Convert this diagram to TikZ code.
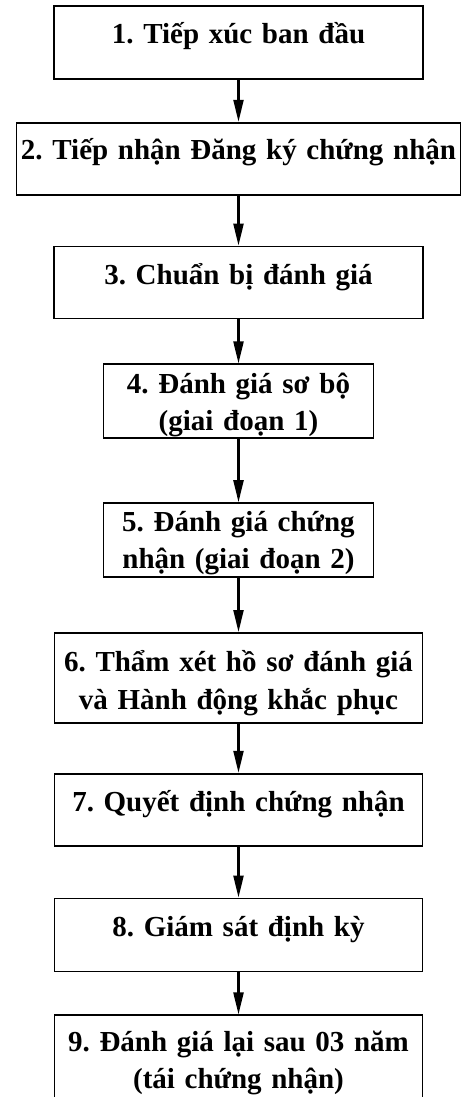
\documentclass[tikz,border=0pt]{standalone}
\usepackage{fontspec}
\setmainfont{Liberation Serif}
\frenchspacing
\usetikzlibrary{arrows.meta}
\usetikzlibrary{positioning}
\tikzset{
  every picture/.style={font={\bfseries\fontsize{29}{37.5}\selectfont}, >={Triangle[length=22pt, width=10pt]}}}

\begin{document}
\begin{tikzpicture}[x=1pt, y=1pt, node distance=45pt,
    stage/.style={draw, line width=1.8pt, inner sep=0pt, align=center,
      text width=368pt, text height=38pt, text depth=35pt},
    twoline/.style={stage, text width=270pt, text height=29pt, text depth=45pt}]

    \useasboundingbox (0,0) rectangle (465,-1097);
    \clip (0,0) rectangle (465,-1097);

    \begin{scope}
      \node[stage, text width=369pt] (S1) at (238.5,-5) [anchor=north] {1. Tiếp xúc ban đầu};
      \node[stage, text width=444pt, text height=37pt] (S2) [below=42pt of S1] {2. Tiếp nhận Đăng ký chứng nhận};
      \node[stage, text width=369pt, text depth=34pt] (S3) [below=50pt of S2] {3. Chuẩn bị đánh giá};
      \node[twoline] (S4) [below=44pt of S3] {4. Đánh giá sơ bộ\\(giai đoạn 1)};
      \node[twoline, text height=28pt, text depth=46pt] (S5) [below=63pt of S4] {5. Đánh giá chứng\\nhận (giai đoạn 2)};
      \node[stage, text height=39pt, text depth=51pt] (S6) [below=54pt of S5] {6. Thẩm xét hồ sơ đánh giá\\và Hành động khắc phục};
      \node[stage, text depth=34pt] (S7) [below=49pt of S6] {7. Quyết định chứng nhận};
      \node[stage] (S8) [below=51pt of S7] {8. Giám sát định kỳ};
      \node[stage, text height=36pt, text depth=80pt] (S9) [below=42pt of S8] {9. Đánh giá lại sau 03 năm\\(tái chứng nhận)};
    \end{scope}

    \path[->, line width=2.2pt] (S1) edge (S2);
    \path[->, line width=2.2pt] (S2) edge (S3);
    \path[->, line width=2.2pt] (S3) edge (S4);
    \path[->, line width=2.2pt] (S4) edge (S5);
    \path[->, line width=2.2pt] (S5) edge (S6);
    \path[->, line width=2.2pt] (S6) edge (S7);
    \path[->, line width=2.2pt] (S7) edge (S8);
    \path[->, line width=2.2pt] (S8) edge (S9);
  \end{tikzpicture}
\end{document}
